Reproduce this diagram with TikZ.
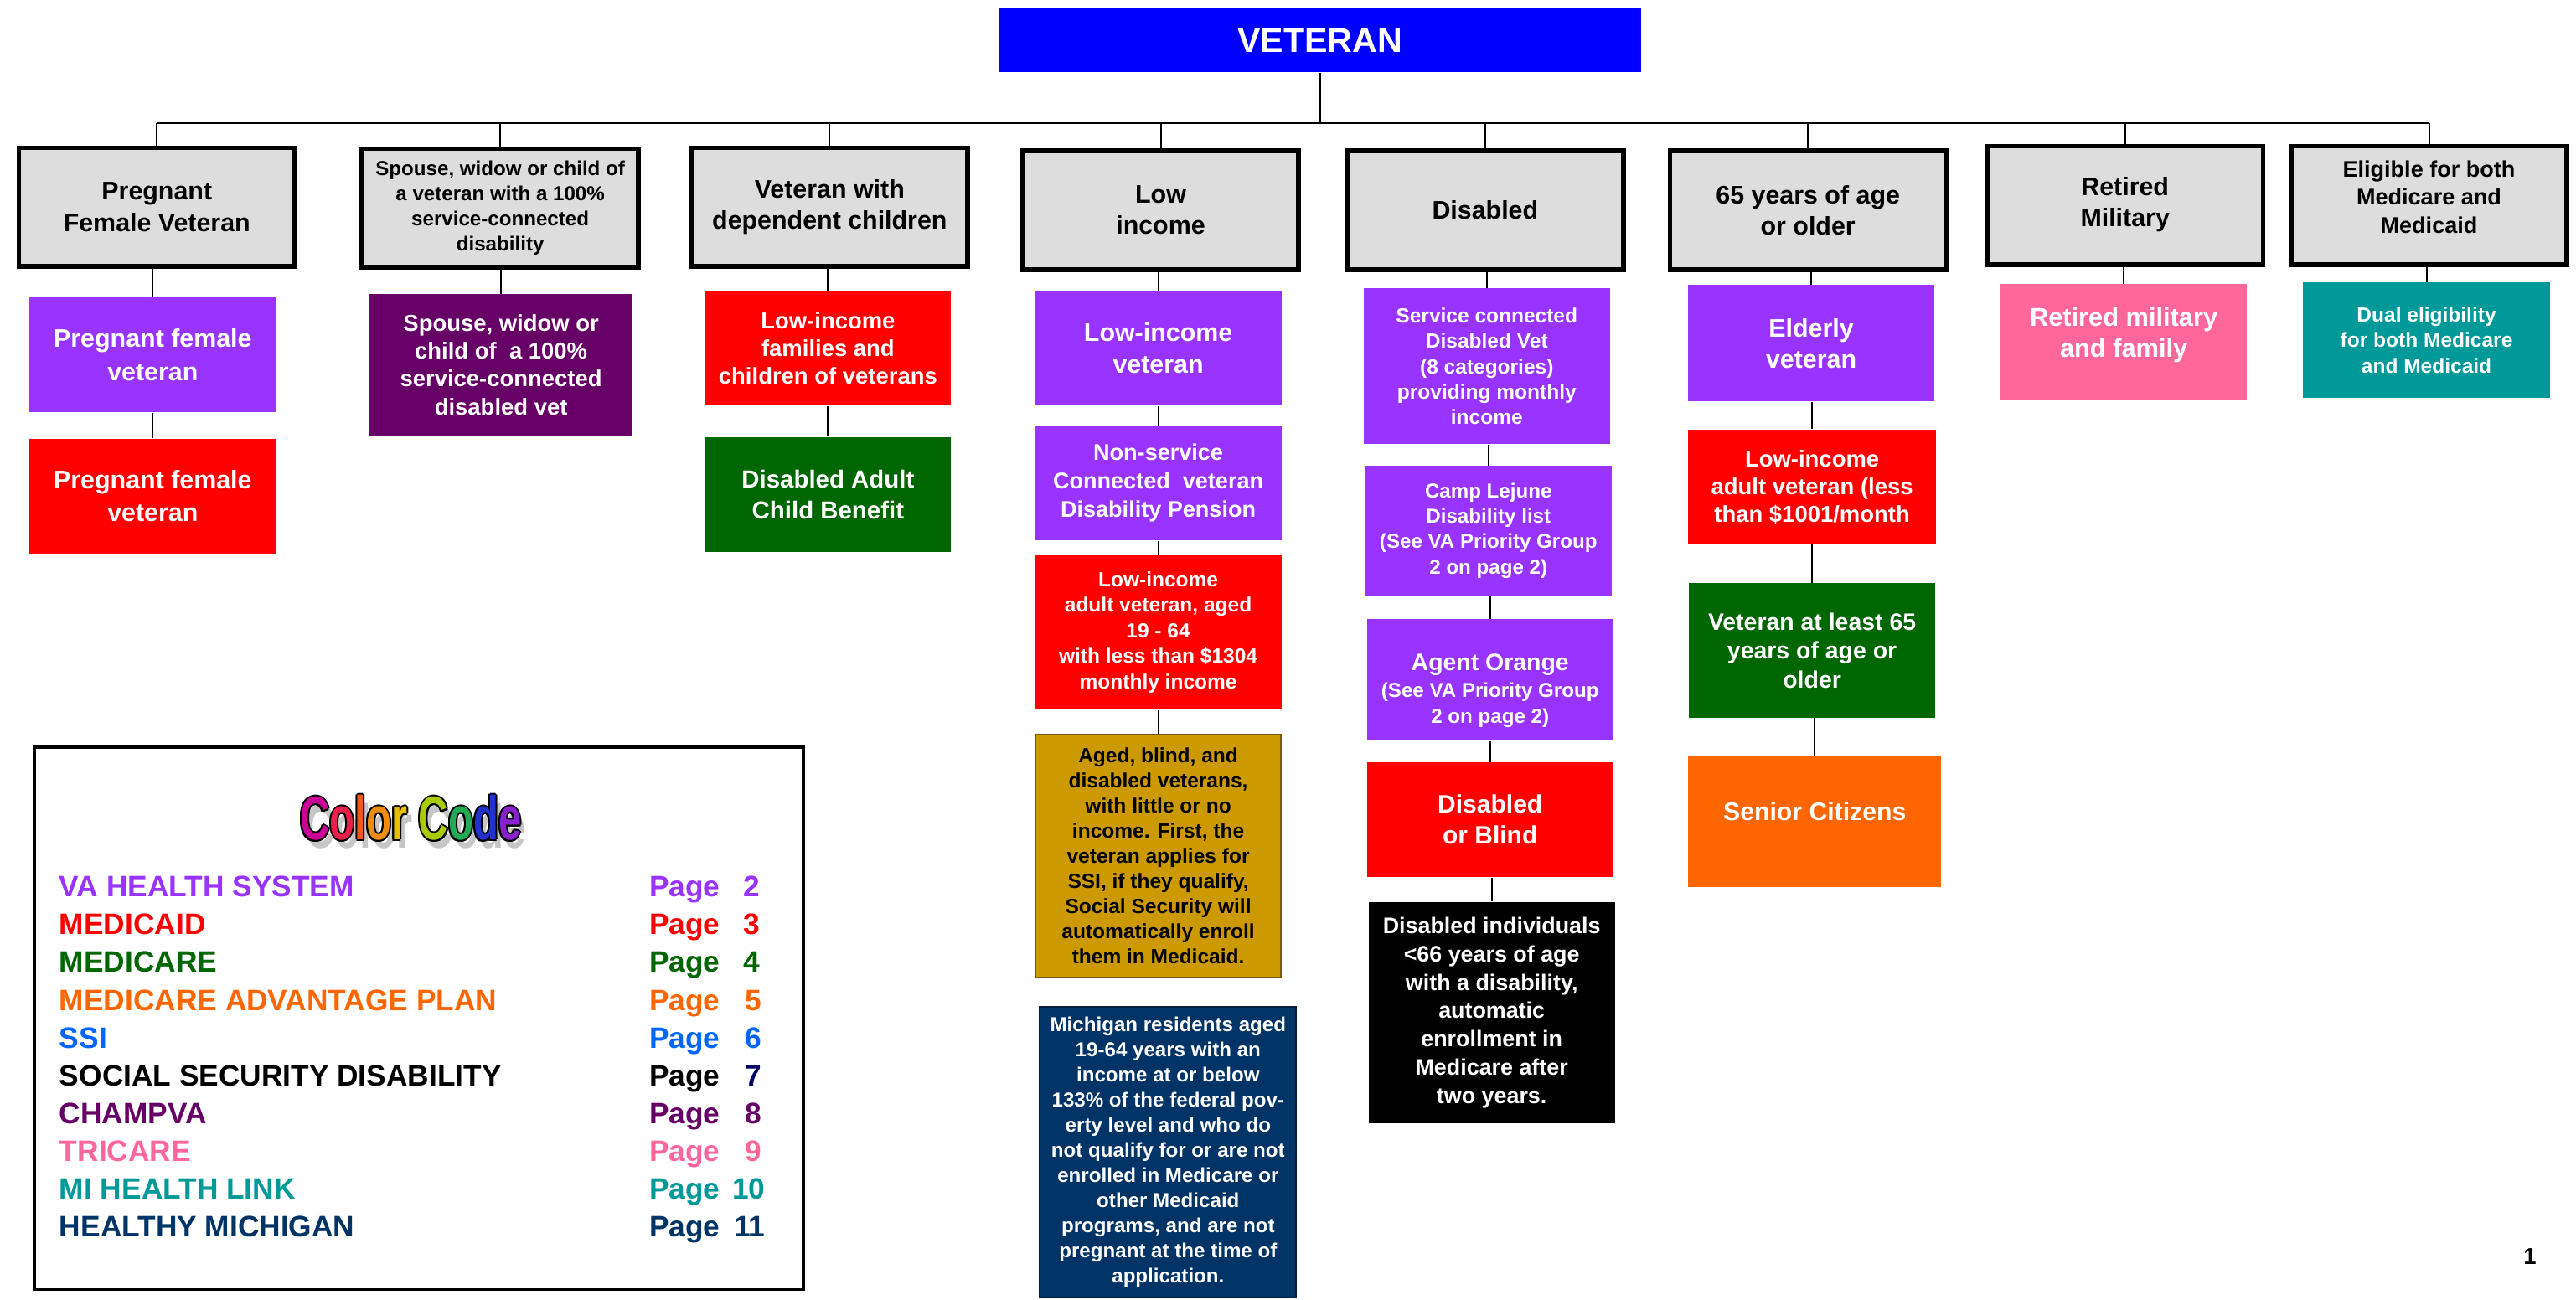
\documentclass[tikz,border=0pt]{standalone}
\usepackage{fontspec}
\setmainfont{Liberation Sans}
\usetikzlibrary{calc}
\definecolor{vetblue}{HTML}{0000FF}
\definecolor{hgray}{HTML}{DDDDDD}
\definecolor{vapurple}{HTML}{9933FF}
\definecolor{mred}{HTML}{FF0000}
\definecolor{champ}{HTML}{660066}
\definecolor{mgreen}{HTML}{006600}
\definecolor{ssigold}{HTML}{CC9900}
\definecolor{hmnavy}{HTML}{003366}
\definecolor{advorange}{HTML}{FF6600}
\definecolor{tripink}{HTML}{FF6699}
\definecolor{miteal}{HTML}{009999}
\definecolor{ssiblue}{HTML}{0066FF}
\definecolor{pgnavy}{HTML}{000066}
\definecolor{ccA}{HTML}{CC0099}
\definecolor{ccB}{HTML}{E8204A}
\definecolor{ccC}{HTML}{F05A1E}
\definecolor{ccD}{HTML}{F08C10}
\definecolor{ccE}{HTML}{E8C000}
\definecolor{ccF}{HTML}{A8CC00}
\definecolor{ccG}{HTML}{22AA55}
\definecolor{ccH}{HTML}{2233CC}
\definecolor{ccI}{HTML}{8822CC}
\newcommand\ccword[1]{\scalebox{1}[1.5]{\fontsize{25}{25}\selectfont\bfseries #1}}
\begin{document}
\begin{tikzpicture}[x=1pt,y=-1pt,
  hdr/.style={draw=black,line width=3pt,fill=hgray,minimum width=168pt,minimum height=72pt,inner sep=0pt,align=center,font=\bfseries\fontsize{15.5}{19}\selectfont},
  cb/.style={fill=#1,text=white,inner sep=0pt,align=center},
  wh/.style 2 args={minimum width=#1pt,minimum height=#2pt},
  sz/.style 2 args={font=\bfseries\fontsize{#1}{#2}\selectfont},
  txt/.style={inner sep=0pt,align=center,text=white},
  conn/.style={draw=black,line width=1pt},
  leg/.style={anchor=base west,inner sep=0pt,font=\bfseries\fontsize{18}{20}\selectfont}
]
\useasboundingbox (0,0) rectangle (1568,791);
\fill[white] (0,0) rectangle (1568,791);

% root
\node[cb=vetblue,wh={391}{39},sz={21}{24}] (vet) at (803.5,24.5) {VETERAN};
\coordinate (bus) at (0,75);

% header boxes
\node[hdr] (h1) at (95.5,126) {Pregnant\\Female Veteran};
\node[hdr,sz={12.3}{15.3}] (h2) at (304.5,126.5) {Spouse, widow or child of\\a veteran with a 100\%\\service-connected\\disability};
\node[hdr] (h3) at (505,126) {Veteran with\\dependent children};
\node[hdr] (h4) at (706.5,128) {Low\\income};
\node[hdr] (h5) at (904,128) {Disabled};
\node[hdr] (h6) at (1100.5,128) {65 years of age\\or older};
\node[hdr] (h7) at (1293.5,125) {};
\node[txt,text=black,sz={15.5}{19}] (h7t) at (1293.5,124.5) {Retired\\Military};
\node[hdr] (h8) at (1478.5,125) {};
\node[txt,text=black,sz={13.8}{17}] (h8t) at (1478.5,120) {Eligible for both\\Medicare and\\Medicaid};

% column 1
\node[cb=vapurple,wh={150}{70},sz={15.5}{20}] (c1a) at (93,216) {Pregnant female\\veteran};
\node[cb=mred,wh={150}{70},sz={15.5}{20}] (c1b) at (93,302) {Pregnant female\\veteran};
% column 2
\node[cb=champ,wh={160}{86},sz={14}{17}] (c2a) at (305,222) {Spouse, widow or\\child of\ \ a 100\%\\service-connected\\disabled vet};
% column 3
\node[cb=mred,wh={150}{70},sz={14}{17}] (c3a) at (504,212) {Low-income\\families and\\children of veterans};
\node[cb=mgreen,wh={150}{70},sz={15}{19}] (c3b) at (504,301) {Disabled Adult\\Child Benefit};
% column 4
\node[cb=vapurple,wh={150}{70},sz={15.5}{19}] (c4a) at (705,212) {Low-income\\veteran};
\node[cb=vapurple,wh={150}{70},sz={13.8}{17.5}] (c4b) at (705,294) {Non-service\\Connected\ \ veteran\\Disability Pension};
\node[cb=mred,wh={150}{94},sz={12.5}{15.5}] (c4c) at (705,385) {Low-income\\adult veteran, aged\\19 - 64\\with less than \$1304\\monthly income};
\node[cb=ssigold,draw=ssigold!60!black,line width=1pt,text=black,wh={149}{148},sz={12.5}{15.25}] (c4d) at (705,521) {Aged, blind, and\\disabled veterans,\\with little or no\\income. First, the\\veteran applies for\\SSI, if they qualify,\\Social Security will\\automatically enroll\\them in Medicaid.};
\node[cb=hmnavy,draw=hmnavy!60!black,line width=1pt,wh={156}{177},sz={12.3}{15.3}] (c4e) at (711,701.5) {Michigan residents aged\\19-64 years with an\\income at or below\\133\% of the federal pov-\\erty level and who do\\not qualify for or are not\\enrolled in Medicare or\\other Medicaid\\programs, and are not\\pregnant at the time of\\application.};
% column 5
\node[cb=vapurple,wh={150}{95},sz={12.5}{15.5}] (c5a) at (905,223) {Service connected\\Disabled Vet\\(8 categories)\\providing monthly\\income};
\node[cb=vapurple,wh={150}{79},sz={12.3}{15.5}] (c5b) at (906,323) {Camp Lejune\\Disability list\\(See VA Priority Group\\2 on page 2)};
\node[cb=vapurple,wh={150}{74}] (c5c) at (907,414) {};
\node[txt,sz={12.3}{16}] (c5ct) at (907,420.5) {{\fontsize{14.5}{16}\selectfont Agent Orange}\\(See VA Priority Group\\2 on page 2)};
\node[cb=mred,wh={150}{70},sz={15.3}{19}] (c5d) at (907,499) {Disabled\\or Blind};
\node[cb=black,wh={150}{135},sz={13.7}{17.3}] (c5e) at (908,616.5) {Disabled individuals\\<66 years of age\\with a disability,\\automatic\\enrollment in\\Medicare after\\two years.};
% column 6
\node[cb=vapurple,wh={150}{71},sz={15.5}{19}] (c6a) at (1102.5,209) {Elderly\\veteran};
\node[cb=mred,wh={151}{70},sz={14}{17}] (c6b) at (1103,296.5) {Low-income\\adult veteran (less\\than \$1001/month};
\node[cb=mgreen,wh={150}{82},sz={14.5}{17.5}] (c6c) at (1103,396) {Veteran at least 65\\years of age or\\older};
\node[cb=advorange,wh={154}{80}] (c6d) at (1104.6,500) {};
\node[txt,sz={15.4}{19}] (c6dt) at (1104.6,494) {Senior Citizens};
% column 7
\node[cb=tripink,wh={150}{70}] (c7a) at (1292.7,208) {};
\node[txt,sz={15.7}{19}] (c7at) at (1292.7,204) {Retired military\\and family};
% column 8
\node[cb=miteal,wh={150}{70},sz={12.5}{15.5}] (c8a) at (1477,207) {Dual eligibility\\for both Medicare\\and Medicaid};

% connectors: root and bus
\draw[conn] (vet.south) -- (vet.south |- bus);
\draw[conn,line width=1.3pt] (h1.north |- bus) -- (h8.north |- bus);
\foreach \h in {h1,h2,h3,h4,h5,h6,h7,h8}
  \draw[conn] (\h.north |- bus) -- (\h.north);
% header to children and chains
\foreach \p/\c in {h1/c1a,c1a/c1b,h2/c2a,h3/c3a,c3a/c3b,h4/c4a,c4a/c4b,c4b/c4c,c4c/c4d,h5/c5a,c5a/c5b,c5b/c5c,c5c/c5d,c5d/c5e,h6/c6a,c6a/c6b,c6b/c6c,c6c/c6d,h7/c7a,h8/c8a}
  \draw[conn] (\c.north |- \p.south) -- (\c.north);

% legend
\node[draw=black,line width=2pt,minimum width=468pt,minimum height=330pt,inner sep=0pt] (legend) at (255,620) {};
\node[text=gray!45] (ccs) at (253,503) {\ccword{Color Code}};
\foreach \dx/\dy [count=\k] in {-1/0,1/0,0/-1,0/1,-0.7/-0.7,0.7/0.7,-0.7/0.7,0.7/-0.7}
  \node[text=black] (cco\k) at (250+\dx,498+\dy) {\ccword{Color Code}};
\node (cc) at (250,498) {\ccword{\color{ccA}C\color{ccB}o\color{ccC}l\color{ccD}o\color{ccE}r \color{ccF}C\color{ccG}o\color{ccH}d\color{ccI}e}};

\foreach \t/\c/\n/\nc/\nx [count=\i] in {
  VA HEALTH SYSTEM/vapurple/2/vapurple/463,
  MEDICAID/mred/3/mred/463,
  MEDICARE/mgreen/4/mgreen/463,
  MEDICARE ADVANTAGE PLAN/advorange/5/advorange/464,
  SSI/ssiblue/6/ssiblue/464,
  SOCIAL SECURITY DISABILITY/black/7/pgnavy/464,
  CHAMPVA/champ/8/champ/464,
  TRICARE/tripink/9/tripink/464,
  MI HEALTH LINK/miteal/10/miteal/466,
  HEALTHY MICHIGAN/hmnavy/11/hmnavy/466}
{
  \node[leg,text=\c] (lt\i) at (36,{546+23*(\i-1)}) {\t};
  \node[leg,text=\c] (lp\i) at (395,{546+23*(\i-1)}) {Page};
  \node[leg,anchor=base east,text=\nc] (ln\i) at (\nx,{546+23*(\i-1)}) {\n};
}

\node[inner sep=0pt,sz={14}{16}] (pnum) at (1540,765) {1};
\end{tikzpicture}
\end{document}
